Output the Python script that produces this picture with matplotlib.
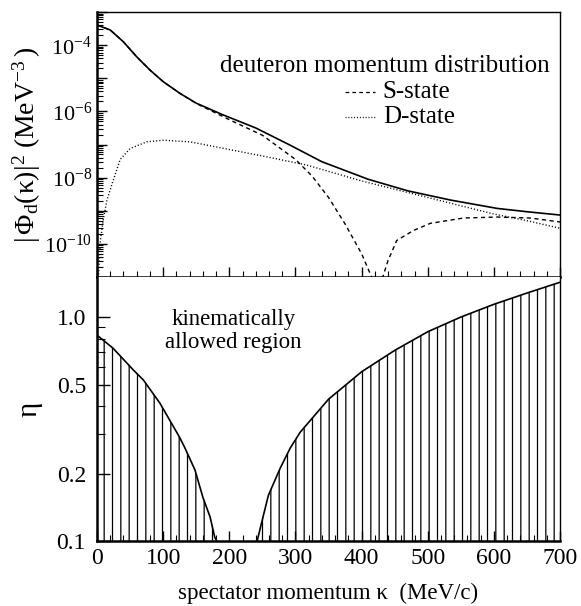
import matplotlib
matplotlib.use("Agg")
import matplotlib.pyplot as plt
import numpy as np
from matplotlib.ticker import FixedLocator, FuncFormatter, MultipleLocator, NullFormatter

plt.rcParams['font.family'] = ['Liberation Serif', 'DejaVu Serif']
plt.rcParams['mathtext.fontset'] = 'custom'
plt.rcParams['mathtext.rm'] = 'Liberation Serif'
plt.rcParams['mathtext.it'] = 'Liberation Serif:italic'
plt.rcParams['hatch.linewidth'] = 0.9

# momentum distributions, log10 of |phi|^2 in MeV^-3
k_tot = [0, 20, 40, 60, 80, 100, 125, 150, 190, 240, 290, 340, 410, 470, 535, 605, 650, 700]
lg_tot = [-3.39, -3.54, -3.90, -4.35, -4.75, -5.10, -5.45, -5.75, -6.10, -6.50, -7.00, -7.52,
          -8.05, -8.40, -8.68, -8.93, -9.03, -9.13]

k_s = [0, 20, 40, 60, 80, 100, 125, 150, 200, 250, 300, 325, 350, 375, 400, 415, 423,
       432, 440, 453, 478, 504, 554, 605, 655, 700]
lg_s = [-3.39, -3.54, -3.90, -4.35, -4.75, -5.10, -5.45, -5.76, -6.25, -6.72, -7.45, -7.95,
        -8.60, -9.40, -10.30, -11.0, -12.5, -11.0, -10.5, -9.90, -9.60, -9.38, -9.22, -9.19,
        -9.22, -9.34]

k_d = [1, 5, 10, 15, 23, 35, 50, 75, 100, 141, 200, 266, 317, 400, 450, 500, 550, 600, 650, 700]
lg_d = [-11.5, -9.90, -9.20, -8.68, -8.17, -7.45, -7.12, -6.92, -6.87, -6.92, -7.15, -7.41,
        -7.62, -8.10, -8.35, -8.60, -8.85, -9.10, -9.30, -9.53]

# kinematically allowed eta, two branches
k_left = [0, 24, 55, 70, 95, 125, 133, 148, 160, 171, 178, 181]
eta_left = [0.83, 0.727, 0.58, 0.524, 0.413, 0.29, 0.26, 0.208, 0.157, 0.128, 0.104, 0.1]
k_right = [242, 250, 259, 277, 292, 307, 350, 400, 450, 500, 550, 600, 650, 700]
eta_right = [0.1, 0.125, 0.16, 0.212, 0.26, 0.306, 0.43, 0.57, 0.71, 0.86, 1.0, 1.14, 1.28, 1.43]

fig = plt.figure(figsize=(5.81, 6.06), dpi=100)
ax1 = fig.add_axes([0.167, 0.543, 0.797, 0.437])
ax2 = fig.add_axes([0.167, 0.107, 0.797, 0.436])

ax1.plot(k_tot, 10 ** np.array(lg_tot), '-', color='black', lw=1.2)
ax1.plot(k_s, 10 ** np.array(lg_s), '--', color='black', lw=1.0, dashes=(3, 2.5))
ax1.plot(k_d, 10 ** np.array(lg_d), ':', color='black', lw=1.0, dashes=(0.8, 1.5))
ax1.set_yscale('log')
ax1.set_xlim(0, 700)
ax1.set_ylim(1e-11, 1e-3)

ax1.yaxis.set_major_locator(FixedLocator([10.0 ** e for e in range(-11, -2)]))
ax1.yaxis.set_minor_locator(FixedLocator([m * 10.0 ** e for e in range(-11, -3) for m in range(2, 10)]))
ax1.yaxis.set_major_formatter(FuncFormatter(
    lambda v, p: r'$10^{%d}$' % round(np.log10(v)) if round(np.log10(v)) in (-4, -6, -8, -10) else ''))
ax1.yaxis.set_minor_formatter(NullFormatter())
ax1.xaxis.set_major_locator(MultipleLocator(100))
ax1.xaxis.set_minor_locator(MultipleLocator(20))
ax1.tick_params(which='both', direction='in', top=False, right=False, labelbottom=False,
                labelsize=16)
ax1.tick_params(which='major', length=7, width=1.0)
ax1.tick_params(which='minor', length=4, width=0.8)
ax1.set_ylabel(r'$|\,\Phi_{\rm d}(\mathrm{κ})|^2\ ({\rm MeV}^{-3}\,)$', fontsize=20, labelpad=1)

ax1.text(0.622, 0.796, 'deuteron momentum distribution', transform=ax1.transAxes,
         ha='center', va='center', fontsize=18)
ax1.plot([375, 420], [10 ** -5.42, 10 ** -5.42], '--', color='black', lw=0.9, dashes=(3, 2.5))
ax1.plot([375, 420], [10 ** -6.17, 10 ** -6.17], ':', color='black', lw=0.9, dashes=(0.8, 1.5))
ax1.text(432, 10 ** -5.42, 'S-state', ha='left', va='center', fontsize=18)
ax1.text(432, 10 ** -6.17, 'D-state', ha='left', va='center', fontsize=18)

ax2.fill_between(k_left, 0.1, eta_left, facecolor='none', edgecolor='black', hatch='||', linewidth=0)
ax2.fill_between(k_right, 0.1, eta_right, facecolor='none', edgecolor='black', hatch='||', linewidth=0)
ax2.plot(k_left, eta_left, '-', color='black', lw=1.2)
ax2.plot(k_right, eta_right, '-', color='black', lw=1.2)
ax2.set_yscale('log')
ax2.set_xlim(0, 700)
ax2.set_ylim(0.1, 1.51)
ax2.yaxis.set_major_locator(FixedLocator([0.1, 0.2, 0.5, 1.0]))
ax2.yaxis.set_major_formatter(FuncFormatter(lambda v, p: '%.1f' % v))
ax2.yaxis.set_minor_locator(FixedLocator([0.3, 0.4, 0.6, 0.7, 0.8, 0.9]))
ax2.yaxis.set_minor_formatter(NullFormatter())
ax2.xaxis.set_major_locator(MultipleLocator(100))
ax2.xaxis.set_minor_locator(MultipleLocator(20))
ax2.tick_params(which='both', direction='in', top=False, right=False, labelsize=17)
ax2.tick_params(axis='y', which='major', length=9, width=1.0, pad=8)
ax2.tick_params(axis='y', which='minor', length=6, width=0.8)
ax2.tick_params(axis='x', which='major', length=7, width=1.0, pad=5)
ax2.tick_params(axis='x', which='minor', length=4, width=0.8)
ax2.set_ylabel('η', fontsize=21, labelpad=10)
ax2.set_xlabel('spectator momentum κ  (MeV/c)', fontsize=16.5, labelpad=10)
ax2.text(0.295, 0.795, 'kinematically\nallowed region', transform=ax2.transAxes,
         ha='center', va='center', fontsize=16.5, linespacing=1.15)

for ax in (ax1, ax2):
    ax.spines['left'].set_linewidth(1.8)
    ax.spines['bottom'].set_linewidth(1.8)
    ax.spines['top'].set_linewidth(1.0)
    ax.spines['right'].set_linewidth(1.0)
ax2.spines['top'].set_visible(False)

fig.savefig('out.png', dpi=100)
